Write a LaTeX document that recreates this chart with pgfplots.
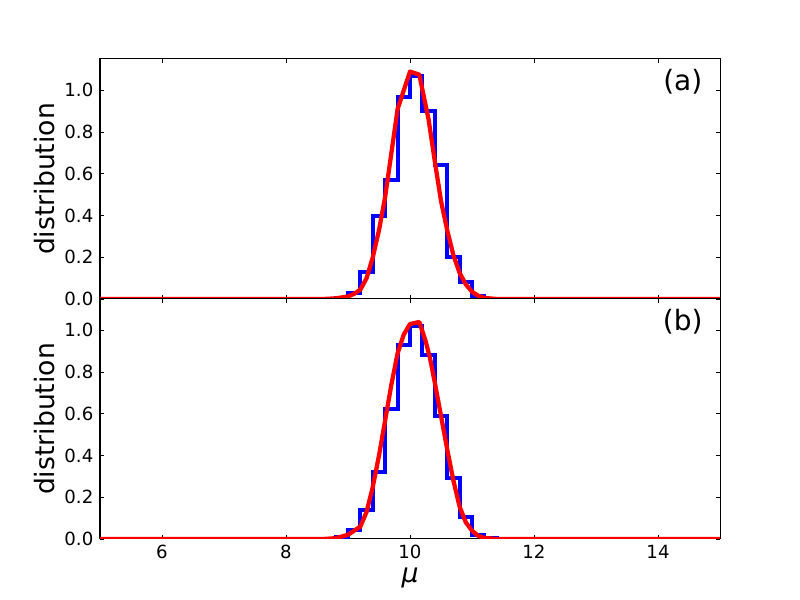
\documentclass[border=0pt]{standalone}
\usepackage{fontspec}
\setmainfont{DejaVu Sans}
\usepackage{pgfplots}
\pgfplotsset{compat=1.18}
\begin{document}
\begin{tikzpicture}
\useasboundingbox (0pt,0pt) rectangle (600pt,450pt);
\pgfplotsset{
  panel/.style={
    scale only axis, width=465pt, height=180pt,
    xmin=5, xmax=15, ymin=0, ymax=1.15,
    axis line style={line width=0.75pt},
    tick style={line width=0.6pt, black},
    major tick length=3pt,
    tick align=inside,
    xtick={6,8,10,12,14},
    ytick={0,0.2,0.4,0.6,0.8,1.0},
    yticklabel style={/pgf/number format/fixed,/pgf/number format/fixed zerofill,/pgf/number format/precision=1, font=\fontsize{13.6}{16}\selectfont, xshift=-1.5pt},
    xticklabel style={font=\fontsize{13.6}{16}\selectfont, yshift=-1pt},
    /pgf/number format/assume math mode=true,
    ylabel={distribution},
    ylabel style={font=\fontsize{20}{24}\selectfont, at={(axis description cs:-0.0887,0.5)}, anchor=center},
    clip=true,
  },
  histo/.style={blue, line width=3pt, const plot mark left, line join=miter},
  fit/.style={red, line width=3.2pt, line join=round},
}
% top panel (a)
\begin{axis}[panel, at={(75pt,225.75pt)}, anchor=south west, xticklabels={}]
\addplot[histo] coordinates {
(5.0,0) (8.8,0.005) (9.0,0.03) (9.2,0.13) (9.4,0.40) (9.6,0.57) (9.8,0.97)
(10.0,1.07) (10.2,0.90) (10.4,0.64) (10.6,0.20) (10.8,0.083) (11.0,0.012)
(11.2,0.0) (15.0,0.0)};
\addplot[fit] coordinates {
(5.0,0) (8.6,0.0) (8.8,0.003) (9.0,0.012) (9.1,0.025) (9.2,0.045) (9.3,0.10)
(9.4,0.20) (9.5,0.33) (9.6,0.49) (9.7,0.70) (9.8,0.91) (9.9,1.00) (10.0,1.09)
(10.15,1.075) (10.3,0.86) (10.4,0.66) (10.5,0.47) (10.6,0.33) (10.7,0.21)
(10.8,0.125) (10.9,0.07) (11.0,0.035) (11.1,0.015) (11.2,0.005) (11.4,0.0) (15.0,0.0)};
\node[font=\fontsize{21}{25}\selectfont] at (axis cs:14.4,1.04) {(a)};
\end{axis}
% bottom panel (b)
\begin{axis}[panel, at={(75pt,45.75pt)}, anchor=south west,
  xlabel={\textit{μ}}, xlabel style={font=\fontsize{20}{24}\selectfont, at={(axis description cs:0.5,-0.163)}, anchor=center}]
\addplot[histo] coordinates {
(5.0,0) (8.8,0.008) (9.0,0.043) (9.2,0.14) (9.4,0.32) (9.6,0.625) (9.8,0.93)
(10.0,1.02) (10.2,0.88) (10.4,0.59) (10.6,0.29) (10.8,0.104) (11.0,0.02)
(11.2,0.003) (11.4,0.0) (15.0,0.0)};
\addplot[fit] coordinates {
(5.0,0) (8.6,0.0) (8.8,0.004) (9.0,0.02) (9.2,0.06) (9.3,0.13) (9.4,0.25)
(9.5,0.40) (9.6,0.57) (9.7,0.74) (9.8,0.89) (9.9,0.98) (10.0,1.03) (10.15,1.04)
(10.25,0.95) (10.32,0.87) (10.4,0.75) (10.5,0.59) (10.6,0.43) (10.7,0.28)
(10.8,0.155) (10.9,0.08) (11.0,0.04) (11.1,0.015) (11.2,0.005) (11.4,0.0) (15.0,0.0)};
\node[font=\fontsize{21}{25}\selectfont] at (axis cs:14.4,1.04) {(b)};
\end{axis}
\end{tikzpicture}
\end{document}
